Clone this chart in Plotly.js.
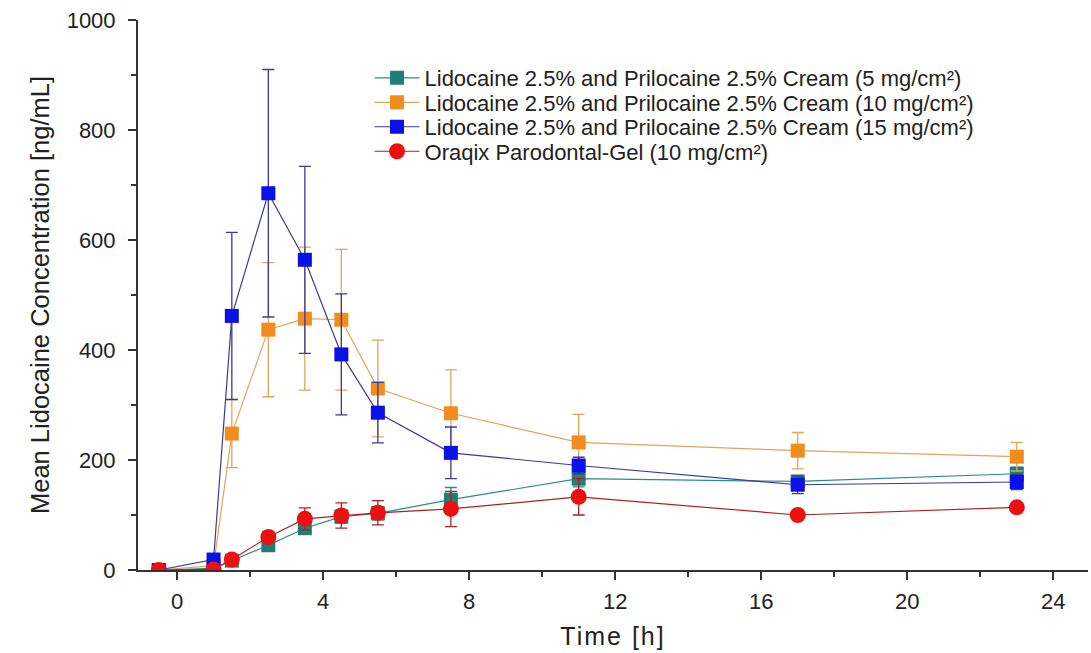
<!DOCTYPE html>
<html>
<head>
<meta charset="utf-8">
<script src="https://cdn.plot.ly/plotly-3.0.1.min.js"></script>
<style>
html,body{margin:0;padding:0;background:#fff;}
#chart{width:1091px;height:653px;}
#chart text.xtitle{letter-spacing:2px;}
</style>
</head>
<body>
<div id="chart"></div>
<script>
const timeH = [-0.5, 1, 1.5, 2.5, 3.5, 4.5, 5.5, 7.5, 11, 17, 23];

const cream5 = [0, 3, 17, 45, 76, 97, 103, 128, 166, 161, 175];
const cream5Err = [0, 2, 5, 8, 10, 12, 12, 22, 15, 10, 12];

const cream10 = [0, 8, 248, 437, 457, 455, 330, 285, 232, 217, 206];
const cream10Err = [0, 4, 62, 122, 130, 128, 88, 79, 51, 33, 26];

const cream15 = [0, 19, 462, 685, 564, 392, 286, 213, 190, 155, 160];
const cream15Err = [0, 5, 152, 225, 170, 110, 55, 47, 15, 16, 14];

const oraqix = [0, 1, 19, 60, 93, 99, 104, 111, 133, 100, 114];
const oraqixErr = [0, 1, 5, 10, 20, 23, 22, 32, 33, 6, 6];

const seriesNames = [
  'Lidocaine 2.5% and Prilocaine 2.5% Cream (5 mg/cm²)',
  'Lidocaine 2.5% and Prilocaine 2.5% Cream (10 mg/cm²)',
  'Lidocaine 2.5% and Prilocaine 2.5% Cream (15 mg/cm²)',
  'Oraqix Parodontal-Gel (10 mg/cm²)'
];
const xTicks = [0, 4, 8, 12, 16, 20, 24];
const yTicks = [0, 200, 400, 600, 800, 1000];

function trace(name, y, err, markerColor, lineColor, symbol, size, legendId) {
  return {
    x: timeH, y: y, name: name, type: 'scatter', mode: 'lines+markers',
    legend: legendId,
    line: {color: lineColor, width: 1.2},
    marker: {color: markerColor, symbol: symbol, size: size, line: {width: 0}},
    error_y: {type: 'data', array: err, visible: true, color: lineColor, thickness: 1.3, width: 6}
  };
}

const data = [
  trace(seriesNames[0], cream5, cream5Err, '#1f7f78', '#2a8c86', 'square', 14, 'legend'),
  trace(seriesNames[1], cream10, cream10Err, '#f28c1c', '#e0a45a', 'square', 14, 'legend2'),
  trace(seriesNames[2], cream15, cream15Err, '#0a10e8', '#3a3a9a', 'square', 14, 'legend3'),
  trace(seriesNames[3], oraqix, oraqixErr, '#ee1010', '#b02020', 'circle', 16, 'legend4')
];

function legendAt(yPaper) {
  return {
    x: 0.2437, y: yPaper, xanchor: 'left', yanchor: 'middle',
    bgcolor: 'rgba(0,0,0,0)', font: {size: 22, color: '#222'},
    itemwidth: 45, borderwidth: 0
  };
}

const layout = {
  width: 1091, height: 653,
  margin: {l: 138, r: 3, t: 20, b: 83},
  paper_bgcolor: '#fff', plot_bgcolor: '#fff',
  font: {family: 'Liberation Sans, Arial, sans-serif', color: '#222'},
  showlegend: true,
  legend: legendAt(0.8945),
  legend2: legendAt(0.850),
  legend3: legendAt(0.8055),
  legend4: legendAt(0.761),
  xaxis: {
    range: [-1.07, 24.95], tickvals: xTicks, ticktext: xTicks.map(String),
    ticks: 'outside', ticklen: 8, tickwidth: 2, tickcolor: '#333', ticklabelstandoff: 3,
    minor: {dtick: 2, tick0: 0, ticks: 'outside', ticklen: 5, tickwidth: 2, tickcolor: '#333'},
    showline: true, linecolor: '#333', linewidth: 2, showgrid: false, zeroline: false,
    tickfont: {size: 22, color: '#222'},
    title: {text: 'Time [h]', font: {size: 25, color: '#222'}, standoff: 14}
  },
  yaxis: {
    range: [0, 1000], tickvals: yTicks, ticktext: yTicks.map(String),
    ticks: 'outside', ticklen: 8, tickwidth: 2, tickcolor: '#333', ticklabelstandoff: 8,
    minor: {dtick: 100, tick0: 0, ticks: 'outside', ticklen: 5, tickwidth: 2, tickcolor: '#333'},
    showline: true, linecolor: '#333', linewidth: 2, showgrid: false, zeroline: false,
    tickfont: {size: 22, color: '#222'},
    title: {text: 'Mean Lidocaine Concentration [ng/mL]', font: {size: 25.5, color: '#222'}, standoff: 10}
  }
};

Plotly.newPlot('chart', data, layout, {displayModeBar: false, staticPlot: true});
</script>
</body>
</html>
